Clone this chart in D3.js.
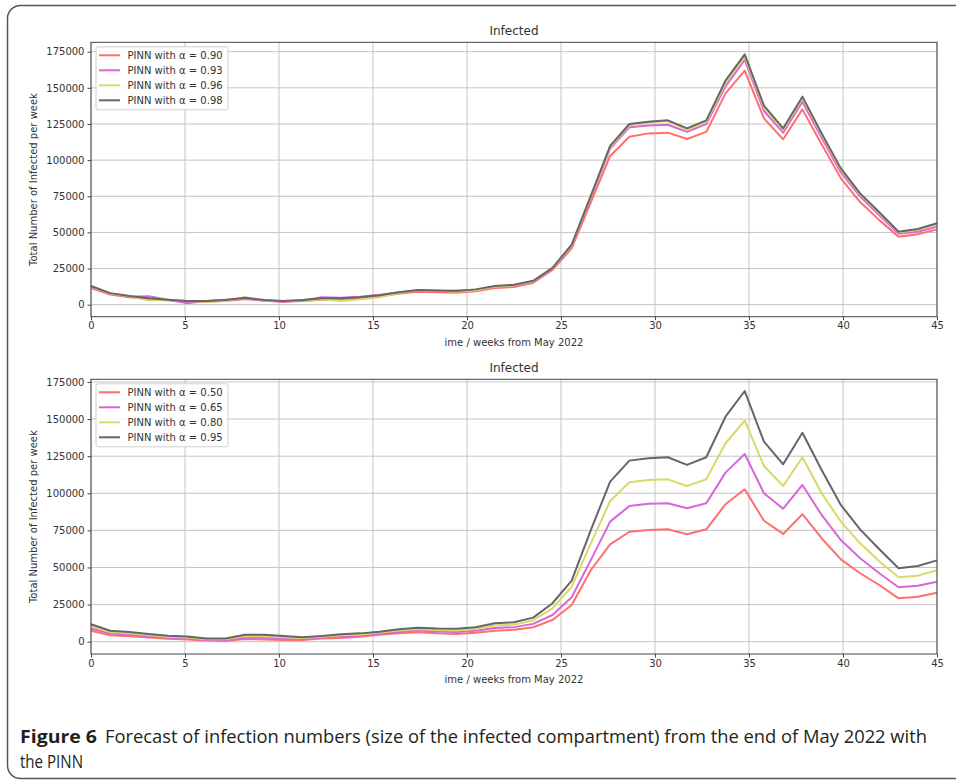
<!DOCTYPE html>
<html><head><meta charset="utf-8">
<script src="https://cdn.jsdelivr.net/npm/d3@7"></script>
<style>body{margin:0;background:#fff}svg{display:block}</style>
</head><body>
<svg id="c" width="956" height="782"></svg>
<script>
// x positions: 45 weekly points spread over 0..45
const weekIndex = d3.range(45);
const xTicks = [0,5,10,15,20,25,30,35,40,45];
const yTicks = [0,25000,50000,75000,100000,125000,150000,175000];

const topLabels = ["PINN with α = 0.90","PINN with α = 0.93","PINN with α = 0.96","PINN with α = 0.98"];
const topA090 = [11500,7000,5200,4000,3000,1800,2000,2500,4000,2800,2000,2600,3500,3600,4300,5600,7500,9000,8600,8200,9300,11600,12300,15200,24000,39000,71000,102900,116200,118500,119000,114600,119500,146200,161900,128900,114400,135100,111000,87400,71000,58500,47000,48700,52100];
const topA093 = [12200,7500,5500,5800,3500,1000,2500,3500,4200,3000,2000,3000,5200,4800,5500,6800,8400,9800,9500,9800,10200,12500,13300,16000,25000,40500,74000,108000,122700,124000,124500,119500,125000,151000,169300,134000,119000,140400,115500,91500,75000,61800,49000,50500,54000];
const topA096 = [12500,7800,5800,3000,3200,2500,2000,2500,5200,3000,2600,3000,3800,2500,3800,5200,8000,10000,9800,9000,10000,12500,13500,16200,25200,41000,75000,109000,124000,126000,127000,121000,126500,153500,171500,136500,121000,143000,117500,93500,76500,63200,50000,51800,55600];
const topA098 = [12900,8000,6000,4400,3500,2600,2500,3200,4800,3200,2500,3200,4400,4400,5100,6500,8600,10200,9900,9400,10600,12900,13800,16500,25500,41500,75500,109800,125000,126600,127500,122000,127500,155000,173200,137700,122000,143900,118500,94300,77000,63900,50500,52400,56300];

const botLabels = ["PINN with α = 0.50","PINN with α = 0.65","PINN with α = 0.80","PINN with α = 0.95"];
const botA050 = [7400,4400,3700,2900,2000,1500,800,400,1800,1500,1200,1100,2100,2500,3400,4700,5600,6400,5600,5200,6000,7400,8000,9700,14600,24700,48300,65600,74100,75300,75700,72400,75700,92600,102700,81500,72600,85900,69700,55500,46100,38200,29200,30300,33000];
const botA065 = [8900,5500,4700,3700,2700,2200,1300,1000,2800,2600,2100,1800,2800,3400,4200,5400,6600,7500,6800,6500,7300,9200,9800,12000,18000,29900,55100,80900,91400,93000,93300,89900,93300,113900,126500,100000,89600,105600,85400,68500,56200,46100,36700,37700,40400];
const botA080 = [10300,6500,5600,4500,3400,2900,1700,1600,3800,3700,3000,2400,3400,4300,4900,6100,7500,8500,7900,7600,8600,10900,11500,14300,22500,37000,66300,94800,107400,109000,109400,104900,109400,133700,148900,118400,104900,124300,100000,80900,66300,54200,43400,44500,48100];
const botA095 = [11700,7400,6500,5200,4000,3500,2100,2100,4700,4700,3800,3000,3900,5000,5600,6700,8300,9400,8900,8700,9700,12400,13070,16200,25900,41100,75300,107800,122000,123600,124300,119100,124300,151600,168900,134800,119500,140800,115700,92100,75700,62300,49500,51000,54800];

const colors = ["#ff6f6f","#d966d9","#d9d966","#666666"];

const svg = d3.select("#c");
const font = "'DejaVu Sans', sans-serif";

// outer frame
svg.append("rect").attr("x",7.5).attr("y",5.5).attr("width",980).attr("height",773)
  .attr("rx",13).attr("fill","none").attr("stroke","#555").attr("stroke-width",1.5);

function panel(cfg){
  const g = svg.append("g");
  const x = d3.scaleLinear().domain([0,45]).range([91,937]);
  const y = d3.scaleLinear().domain(cfg.yDomain).range([cfg.bottom, cfg.top]);
  const xOf = i => x(i*45/44);
  // grid
  g.append("g").selectAll("line").data(xTicks).join("line")
    .attr("x1",d=>x(d)).attr("x2",d=>x(d)).attr("y1",cfg.top).attr("y2",cfg.bottom)
    .attr("stroke","#c4c4c4").attr("stroke-width",1);
  g.append("g").selectAll("line").data(yTicks).join("line")
    .attr("x1",91).attr("x2",937).attr("y1",d=>y(d)).attr("y2",d=>y(d))
    .attr("stroke","#c4c4c4").attr("stroke-width",1);
  // lines
  const line = d3.line().x((d,i)=>xOf(i)).y(d=>y(d));
  cfg.series.forEach((s,k)=>{
    g.append("path").datum(s).attr("d",line).attr("fill","none")
      .attr("stroke",colors[k]).attr("stroke-width",2).attr("stroke-linejoin","round");
  });
  // frame
  g.append("rect").attr("x",91).attr("y",cfg.top).attr("width",846).attr("height",cfg.bottom-cfg.top)
    .attr("fill","none").attr("stroke","#444").attr("stroke-width",1);
  // axes
  const ax = g.append("g").attr("transform",`translate(0,${cfg.bottom})`)
    .call(d3.axisBottom(x).tickValues(xTicks).tickFormat(d3.format("d")).tickSize(3.5).tickPadding(2));
  const ay = g.append("g").attr("transform","translate(91,0)")
    .call(d3.axisLeft(y).tickValues(yTicks).tickFormat(d3.format("d")).tickSize(3.5).tickPadding(3));
  [ax,ay].forEach(a=>{
    a.select(".domain").remove();
    a.selectAll("line").attr("stroke","#444");
    a.selectAll("text").attr("font-family",font).attr("font-size",10).attr("fill","#333");
  });
  // title & labels
  g.append("text").attr("x",514).attr("y",cfg.top-7).attr("text-anchor","middle")
    .attr("font-family",font).attr("font-size",12).attr("fill","#333").text("Infected");
  g.append("text").attr("x",514).attr("y",cfg.bottom+29).attr("text-anchor","middle")
    .attr("font-family",font).attr("font-size",10).attr("fill","#333").text("ime / weeks from May 2022");
  g.append("text").attr("transform",`translate(37,${(cfg.top+cfg.bottom)/2}) rotate(-90)`)
    .attr("text-anchor","middle").attr("font-family",font).attr("font-size",10).attr("fill","#333")
    .text("Total Number of Infected per week");
  // legend
  const lg = g.append("g").attr("transform",`translate(96,${cfg.top+4.5})`);
  lg.append("rect").attr("width",132).attr("height",63).attr("rx",2)
    .attr("fill","#fff").attr("fill-opacity",0.85).attr("stroke","#d0d0d0");
  cfg.labels.forEach((t,k)=>{
    const yy = 8.5 + k*15;
    lg.append("line").attr("x1",3).attr("x2",24).attr("y1",yy).attr("y2",yy)
      .attr("stroke",colors[k]).attr("stroke-width",2);
    lg.append("text").attr("x",31.5).attr("y",yy+3.5).attr("font-family",font).attr("font-size",10)
      .attr("fill","#333").text(t);
  });
}

panel({top:42.3,bottom:316.7,yDomain:[-8300,181500],series:[topA090,topA093,topA096,topA098],labels:topLabels});
panel({top:379.3,bottom:654,yDomain:[-8300,176800],series:[botA050,botA065,botA080,botA095],labels:botLabels});

// caption
const cf = "'Liberation Sans Narrow','Open Sans','Noto Sans',sans-serif";
svg.append("text").attr("x",20).attr("y",743).attr("font-family",cf).attr("font-size",18)
  .attr("font-weight","bold").attr("fill","#231f20").attr("textLength",77).attr("lengthAdjust","spacingAndGlyphs")
  .text("Figure 6");
svg.append("text").attr("x",105).attr("y",743).attr("font-family",cf).attr("font-size",18)
  .attr("fill","#231f20").attr("textLength",822).attr("lengthAdjust","spacingAndGlyphs")
  .text("Forecast of infection numbers (size of the infected compartment) from the end of May 2022 with");
svg.append("text").attr("x",20).attr("y",768).attr("font-family",cf).attr("font-size",18)
  .attr("fill","#231f20").attr("textLength",63).attr("lengthAdjust","spacingAndGlyphs")
  .text("the PINN");
</script>
</body></html>
